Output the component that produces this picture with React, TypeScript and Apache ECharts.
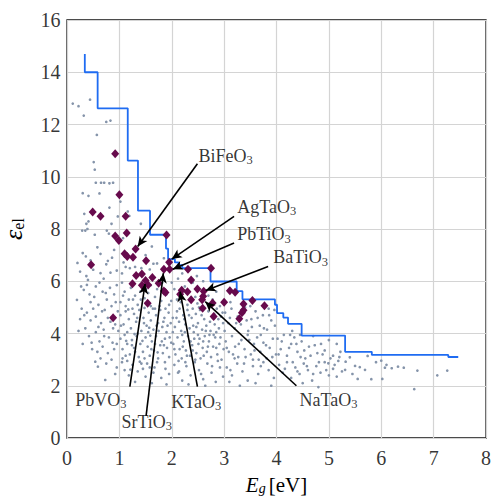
import React, { useEffect, useRef } from 'react';
import * as echarts from 'echarts';

// Axis ticks
const xTicks = [0, 1, 2, 3, 4, 5, 6, 7, 8];
const yTicks = [0, 2, 4, 6, 8, 10, 12, 14, 16];

// Pareto front (step line): x at the right end of each level, level value
const frontX = [0.34, 0.585, 1.16, 1.355, 1.585, 1.89, 1.93, 2.06, 2.13, 2.2, 2.74, 3.24, 3.35, 3.97, 4.01, 4.13, 4.22, 4.48, 5.31, 5.82, 7.28, 7.47];
const frontY = [14.7, 14.0, 12.62, 10.62, 8.7, 7.78, 7.25, 6.85, 6.72, 6.62, 6.5, 5.99, 5.62, 5.31, 5.1, 4.78, 4.61, 4.37, 3.92, 3.3, 3.18, 3.1];

// Highlighted perovskite candidates (purple diamonds)
const candidates: number[][] = [
  [0.92, 10.88], [1.0, 9.31], [0.49, 8.65], [0.64, 8.49], [1.12, 8.49], [1.14, 7.85], [0.92, 7.73], [1.9, 7.77],
  [0.99, 7.56], [1.31, 7.23], [1.1, 7.05], [1.15, 6.95], [1.26, 6.92], [0.46, 6.63], [1.51, 6.78], [1.95, 6.73],
  [1.85, 6.46], [1.96, 6.46], [1.32, 6.22], [1.43, 6.28], [1.63, 6.14], [1.25, 5.9], [1.43, 5.85], [1.55, 5.86],
  [1.5, 6.03], [1.75, 5.92], [1.85, 5.63], [1.88, 5.57], [1.54, 5.16], [0.88, 4.6], [2.75, 6.5], [2.31, 6.46],
  [2.37, 6.05], [2.49, 5.7], [2.19, 5.66], [2.16, 5.5], [2.3, 5.6], [2.61, 5.62], [2.6, 5.43], [2.58, 5.29],
  [2.37, 5.29], [3.11, 5.64], [3.21, 5.58], [2.78, 5.17], [3.0, 5.2], [2.59, 4.97], [3.54, 5.26], [3.77, 5.06],
  [3.37, 5.13], [3.37, 4.89], [3.34, 4.79], [3.29, 4.56], [2.8, 4.65],
];

// All screened materials (grey dots)
const materials: number[][] = [
  [0.11, 12.8], [0.22, 12.7], [0.44, 12.95], [0.32, 12.34], [0.75, 12.1], [0.83, 12.15], [0.57, 11.6], [0.51, 10.56],
  [0.53, 10.27], [0.55, 9.77], [0.65, 9.77], [0.71, 9.77], [0.81, 9.75], [0.88, 9.77], [0.3, 9.37], [0.41, 9.27],
  [0.62, 9.36], [1.02, 9.05], [0.81, 8.82], [1.16, 8.67], [0.33, 8.58], [0.97, 8.48], [1.19, 8.5], [0.41, 8.29],
  [0.37, 8.2], [0.85, 8.2], [1.41, 8.2], [0.29, 7.94], [0.35, 7.94], [0.39, 8.0], [0.53, 7.78], [0.76, 7.94],
  [0.8, 7.82], [1.07, 7.65],
  [0.25, 6.37], [0.3, 7.08], [0.36, 6.95], [0.5, 6.44], [0.37, 6.2], [0.64, 6.31], [0.83, 6.33], [0.95, 6.41],
  [0.64, 7.05], [0.78, 6.78], [0.75, 6.65], [0.45, 6.8], [0.58, 7.3], [0.9, 7.2], [0.2, 6.7],
  [0.19, 5.29], [0.32, 5.67], [0.38, 5.86], [0.43, 5.5], [0.45, 5.2], [0.55, 5.8], [0.62, 5.95], [0.68, 5.6],
  [0.76, 5.3], [0.82, 5.75], [0.9, 5.5], [0.95, 5.85], [0.28, 4.95], [0.38, 4.8], [0.5, 4.95], [0.6, 5.1],
  [0.72, 4.9], [0.85, 5.05], [0.97, 4.85], [0.25, 4.55], [0.45, 4.5], [0.55, 4.65], [0.65, 4.4], [0.78, 4.6], [0.92, 4.35],
  [0.22, 4.1], [0.35, 4.2], [0.42, 3.9], [0.55, 4.05], [0.62, 3.7], [0.7, 4.15], [0.8, 3.85], [0.88, 4.2],
  [0.95, 3.6], [0.3, 3.6], [0.48, 3.4], [0.58, 3.3], [0.68, 3.5], [0.78, 3.25], [0.9, 3.4], [0.54, 2.92],
  [0.64, 3.05], [0.59, 2.73], [0.75, 2.85], [0.85, 3.0], [0.95, 2.7], [0.73, 2.22], [0.92, 2.45],
  [0.33, 4.7], [0.47, 3.65], [0.52, 5.4], [0.6, 4.25], [0.67, 4.85], [0.71, 3.9], [0.74, 5.55], [0.83, 4.45],
  [0.87, 3.65], [0.93, 5.2], [0.98, 4.1], [0.4, 6.05], [0.7, 6.1], [0.86, 6.9], [0.27, 5.8],
  [1.05, 5.95], [1.1, 5.6], [1.18, 5.3], [1.22, 5.75], [1.3, 5.45], [1.35, 5.1], [1.4, 5.6], [1.48, 5.35],
  [1.55, 5.55], [1.6, 5.05], [1.68, 5.4], [1.72, 5.7], [1.8, 5.25], [1.9, 5.5], [1.95, 5.1], [1.02, 5.2],
  [1.12, 5.05], [1.6, 5.85], [1.82, 5.95],
  [1.05, 6.3], [1.12, 6.55], [1.3, 6.55], [1.42, 6.5], [1.58, 6.45], [1.65, 6.67], [1.72, 6.68], [1.85, 6.88],
  [1.62, 7.33], [1.2, 6.5], [1.08, 6.72], [1.5, 7.0],
  [1.02, 4.7], [1.08, 4.35], [1.12, 4.85], [1.18, 4.55], [1.22, 4.2], [1.28, 4.75], [1.32, 4.45], [1.38, 4.9],
  [1.42, 4.1], [1.46, 4.6], [1.52, 4.3], [1.56, 4.8], [1.6, 4.5], [1.65, 4.15], [1.7, 4.7], [1.74, 4.4],
  [1.78, 4.9], [1.82, 4.25], [1.86, 4.6], [1.9, 4.05], [1.94, 4.8], [1.98, 4.4], [1.15, 4.05], [1.35, 4.0],
  [1.55, 4.05], [1.75, 4.1], [1.25, 4.95], [1.48, 4.98], [1.68, 4.95], [1.88, 4.95],
  [1.02, 3.8], [1.06, 3.4], [1.1, 3.95], [1.15, 3.6], [1.2, 3.2], [1.24, 3.75], [1.28, 3.45], [1.33, 3.9],
  [1.37, 3.1], [1.4, 3.6], [1.45, 3.3], [1.5, 3.85], [1.54, 3.5], [1.58, 3.15], [1.62, 3.7], [1.66, 3.35],
  [1.7, 3.9], [1.74, 3.05], [1.78, 3.55], [1.83, 3.25], [1.87, 3.8], [1.91, 3.45], [1.95, 3.1], [1.99, 3.65],
  [1.12, 3.15], [1.3, 3.3], [1.48, 3.05], [1.68, 3.6], [1.85, 3.55],
  [1.05, 2.9], [1.1, 2.6], [1.18, 2.4], [1.25, 2.8], [1.35, 2.55], [1.42, 2.85], [1.5, 2.35], [1.58, 2.7],
  [1.65, 2.5], [1.72, 2.9], [1.8, 2.3], [1.88, 2.65], [1.95, 2.45], [1.3, 2.15], [1.62, 2.1], [1.9, 2.05],
  [1.15, 2.95], [1.45, 2.65],
  [1.03, 4.3], [1.07, 5.45], [1.13, 3.72], [1.17, 4.92], [1.21, 2.62], [1.26, 5.3], [1.29, 3.98], [1.34, 4.6],
  [1.39, 2.92], [1.41, 5.3], [1.44, 3.72], [1.47, 4.4], [1.51, 5.7], [1.53, 2.85], [1.57, 4.22], [1.61, 3.4],
  [1.64, 4.95], [1.67, 2.7], [1.71, 4.3], [1.73, 3.28], [1.77, 5.05], [1.81, 3.7], [1.84, 4.45], [1.87, 2.9],
  [1.92, 4.3], [1.96, 3.85], [1.99, 5.25], [1.06, 3.05], [1.24, 3.55], [1.59, 3.92],
  [2.05, 5.7], [2.1, 5.3], [2.25, 5.8], [2.3, 5.1], [2.45, 5.4], [2.52, 5.0], [2.7, 5.45], [2.78, 5.3],
  [2.85, 5.6], [2.92, 5.05], [2.4, 5.95], [2.12, 6.1], [2.2, 6.3], [2.48, 6.2], [2.6, 6.0], [2.0, 5.95],
  [2.02, 4.6], [2.06, 4.25], [2.1, 4.85], [2.14, 4.45], [2.18, 4.1], [2.22, 4.7], [2.26, 4.35], [2.3, 4.9],
  [2.34, 4.2], [2.38, 4.6], [2.42, 4.05], [2.46, 4.75], [2.5, 4.4], [2.54, 4.9], [2.58, 4.15], [2.62, 4.55],
  [2.66, 4.3], [2.7, 4.85], [2.74, 4.1], [2.78, 4.6], [2.82, 4.35], [2.86, 4.95], [2.9, 4.2], [2.94, 4.65],
  [2.98, 4.4], [2.15, 4.95], [2.4, 4.95], [2.6, 4.98], [2.85, 4.05], [2.25, 4.05],
  [2.03, 3.6], [2.07, 3.2], [2.11, 3.85], [2.15, 3.4], [2.19, 3.05], [2.23, 3.7], [2.27, 3.35], [2.31, 3.9],
  [2.35, 3.15], [2.39, 3.55], [2.43, 3.8], [2.47, 3.25], [2.51, 3.6], [2.55, 3.05], [2.59, 3.45], [2.63, 3.9],
  [2.67, 3.3], [2.71, 3.7], [2.75, 3.1], [2.79, 3.5], [2.83, 3.85], [2.87, 3.2], [2.91, 3.6], [2.95, 3.0],
  [2.99, 3.4], [2.2, 3.95], [2.5, 3.95], [2.8, 3.95], [2.4, 3.35], [2.6, 3.7],
  [2.05, 2.8], [2.12, 2.5], [2.2, 2.2], [2.28, 2.75], [2.36, 2.4], [2.44, 2.9], [2.52, 2.6], [2.6, 2.25],
  [2.68, 2.85], [2.76, 2.5], [2.84, 2.15], [2.92, 2.7], [2.98, 2.35], [2.32, 2.05], [2.64, 2.0], [2.88, 2.95],
  [2.02, 4.05], [2.05, 3.4], [2.09, 4.6], [2.13, 2.95], [2.17, 5.2], [2.21, 3.5], [2.24, 4.55], [2.29, 3.15],
  [2.33, 4.7], [2.36, 3.7], [2.41, 4.3], [2.45, 3.0], [2.49, 5.15], [2.53, 3.8], [2.57, 4.7], [2.61, 3.15],
  [2.65, 4.1], [2.69, 3.5], [2.73, 4.45], [2.77, 2.75], [2.81, 4.75], [2.85, 3.45], [2.89, 4.55], [2.93, 3.85],
  [2.97, 4.8], [2.14, 2.55], [2.56, 2.45], [2.72, 3.95], [2.47, 4.25], [2.26, 2.9],
  [3.02, 4.8], [3.08, 4.4], [3.14, 4.95], [3.2, 4.2], [3.26, 4.65], [3.32, 4.35], [3.4, 5.0], [3.46, 4.1],
  [3.52, 4.55], [3.6, 4.85], [3.68, 4.3], [3.74, 4.7], [3.82, 4.15], [3.9, 4.5], [3.96, 4.9], [3.12, 5.2],
  [3.5, 5.05], [3.85, 4.95],
  [3.03, 3.7], [3.09, 3.3], [3.15, 3.9], [3.21, 3.5], [3.27, 3.1], [3.33, 3.75], [3.39, 3.4], [3.45, 3.95],
  [3.51, 3.2], [3.57, 3.6], [3.63, 3.85], [3.69, 3.3], [3.75, 3.65], [3.81, 3.05], [3.87, 3.45], [3.93, 3.8],
  [3.99, 3.2], [3.2, 3.05], [3.55, 3.0], [3.7, 3.95],
  [3.05, 2.7], [3.15, 2.4], [3.25, 2.85], [3.35, 2.55], [3.45, 2.2], [3.55, 2.75], [3.65, 2.45], [3.75, 2.9],
  [3.85, 2.6], [3.95, 2.3], [3.3, 2.0], [3.6, 2.1], [3.9, 2.0], [3.1, 2.15],
  [3.01, 4.1], [3.05, 3.45], [3.11, 4.6], [3.17, 3.2], [3.23, 4.4], [3.28, 3.6], [3.34, 4.9], [3.38, 2.85],
  [3.43, 4.5], [3.48, 3.75], [3.53, 4.25], [3.58, 3.35], [3.64, 4.6], [3.7, 2.75], [3.76, 4.2], [3.8, 3.55],
  [3.86, 4.7], [3.92, 3.1], [3.97, 4.3], [3.41, 3.1], [3.12, 2.6], [3.66, 3.0],
  [4.02, 3.8], [4.08, 3.4], [4.14, 3.95], [4.2, 3.15], [4.28, 3.6], [4.34, 3.85], [4.4, 3.3], [4.48, 3.7],
  [4.55, 3.05], [4.62, 3.5], [4.7, 3.9], [4.78, 3.25], [4.85, 3.6], [4.92, 3.35], [5.0, 3.75], [5.08, 3.15],
  [5.15, 3.6], [5.22, 3.3], [4.3, 4.1], [4.45, 3.95],
  [4.05, 2.8], [4.12, 2.5], [4.2, 2.9], [4.28, 2.3], [4.36, 2.7], [4.44, 2.45], [4.52, 2.85], [4.6, 2.6],
  [4.68, 2.2], [4.76, 2.75], [4.84, 2.5], [4.92, 2.9], [5.0, 2.4], [5.08, 2.65], [5.18, 2.95], [5.25, 2.55],
  [4.5, 2.1], [4.8, 1.95], [4.99, 2.86], [5.15, 2.35],
  [4.04, 3.2], [4.1, 3.7], [4.16, 2.65], [4.24, 3.45], [4.31, 2.9], [4.38, 3.6], [4.46, 3.1], [4.53, 3.35],
  [4.58, 2.75], [4.65, 3.15], [4.73, 3.55], [4.81, 2.9], [4.88, 3.2], [4.95, 2.6], [5.03, 3.05], [5.11, 2.8],
  [5.2, 3.1], [4.26, 3.95], [4.4, 2.55], [4.7, 2.45],
  [5.32, 2.92], [5.4, 3.09], [5.5, 2.76], [5.59, 2.71], [5.69, 2.61], [5.55, 2.26], [5.81, 2.25], [5.74, 3.14],
  [5.31, 2.61], [6.0, 2.96], [6.1, 2.8], [6.07, 2.69], [6.2, 2.67], [6.32, 2.73], [6.43, 2.69], [6.69, 2.58],
  [7.07, 2.4], [7.26, 2.58], [6.02, 2.26], [6.63, 1.87], [5.45, 2.45], [5.9, 2.9],
];

// Annotations: label text (formula without the subscript 3), label anchor, arrow start, arrow tip
const labelNames = ['BiFeO', 'AgTaO', 'PbTiO', 'BaTiO', 'NaTaO', 'KTaO', 'SrTiO', 'PbVO'];
const labelX = [2.5, 3.24, 3.24, 3.93, 4.43, 1.98, 1.03, 0.15];
const labelY = [10.8, 8.85, 7.8, 6.91, 1.46, 1.39, 0.62, 1.46];
const arrowFromX = [2.49, 3.19, 3.19, 3.84, 4.38, 2.49, 1.51, 1.2];
const arrowFromY = [10.5, 8.48, 7.46, 6.56, 2.0, 1.97, 0.85, 1.97];
const arrowToX = [1.35, 2.0, 2.02, 2.65, 2.64, 2.16, 1.84, 1.49];
const arrowToY = [7.33, 6.85, 6.46, 5.65, 5.22, 5.6, 6.31, 5.9];

const SERIF = 'Liberation Serif';
const CLEAR = 'rgba(255,255,255,0)';

export default function App() {
  const ref = useRef<HTMLDivElement>(null);
  useEffect(() => {
    if (!ref.current) return;
    const chart = echarts.init(ref.current, undefined, { renderer: 'svg' });
    const frontData = frontX.map((x, i) => [x, frontY[i]]);
    const labelData = labelNames.map((n, i) => ({ name: n, value: [labelX[i], labelY[i]] }));
    const arrows = labelNames.map((_, i) => [
      { coord: [arrowFromX[i], arrowFromY[i]] },
      { coord: [arrowToX[i], arrowToY[i]] },
    ]);
    const tickText = { fontFamily: SERIF, fontSize: 20, color: '#000' };
    chart.setOption({
      animation: false,
      backgroundColor: '#fff',
      textStyle: { fontFamily: SERIF },
      grid: {
        left: 67, right: 6, top: 20, bottom: 60, outerBoundsMode: 'none', containLabel: false,
        show: true, borderColor: '#111', borderWidth: 1.3, backgroundColor: 'transparent',
      },
      xAxis: {
        type: 'value', min: 0, max: 8, interval: 1,
        axisLine: { show: false }, axisTick: { show: false }, axisLabel: { show: false },
        splitLine: { show: true, lineStyle: { color: '#d4d4d4', width: 1.2 } },
        name: '{i|E}{s|g} {n|[eV]}', nameLocation: 'middle', nameGap: 36,
        nameTextStyle: {
          fontFamily: SERIF, color: '#000',
          rich: {
            i: { fontFamily: SERIF, fontSize: 21, fontStyle: 'italic', color: '#000' },
            s: { fontFamily: SERIF, fontSize: 14, fontStyle: 'italic', color: '#000', padding: [7, 0, 0, 0] },
            n: { fontFamily: SERIF, fontSize: 21, color: '#000' },
          },
        },
      },
      yAxis: {
        type: 'value', min: 0, max: 16, interval: 2,
        axisLine: { show: false }, axisTick: { show: false }, axisLabel: { show: false },
        splitLine: { show: true, lineStyle: { color: '#d4d4d4', width: 1.2 } },
        name: '{i|ε}{s|el}', nameLocation: 'middle', nameGap: 41, nameRotate: 90,
        nameTextStyle: {
          fontFamily: SERIF, color: '#000',
          rich: {
            i: { fontFamily: SERIF, fontSize: 26, fontStyle: 'italic', color: '#000' },
            s: { fontFamily: SERIF, fontSize: 16, color: '#000', padding: [10, 0, 0, 0] },
          },
        },
      },
      series: [
        {
          type: 'scatter', data: materials, symbol: 'circle', symbolSize: 2.7,
          itemStyle: { color: '#8594aa', opacity: 1 }, silent: true, z: 2,
        },
        {
          type: 'line', data: frontData, step: 'start', showSymbol: false, symbol: 'none',
          lineStyle: { color: '#1f6cf2', width: 1.8 }, silent: true, z: 3,
        },
        {
          type: 'scatter', data: candidates, symbol: 'diamond', symbolSize: [8, 9],
          itemStyle: { color: '#670a4c', opacity: 1 }, silent: true, z: 4,
        },
        {
          type: 'scatter', data: labelData, symbol: 'circle', symbolSize: 1, silent: true, z: 5,
          itemStyle: { color: CLEAR },
          label: {
            show: true, position: 'right', distance: 0,
            formatter: (p: any) => `{m|${p.name}}{s|3}`,
            rich: {
              m: { fontFamily: SERIF, fontSize: 18, color: '#000' },
              s: { fontFamily: SERIF, fontSize: 12.5, color: '#000', padding: [9, 0, 0, 0] },
            },
          },
          markLine: {
            silent: true, symbol: ['none', 'arrow'], symbolSize: [7, 10],
            label: { show: false },
            lineStyle: { color: '#000', width: 1.6, type: 'solid' },
            data: arrows,
          },
        },
        {
          type: 'scatter', data: xTicks.map((v) => [v, 0]), symbol: 'circle', symbolSize: 1, silent: true, z: 6,
          clip: false, itemStyle: { color: CLEAR },
          label: { show: true, position: 'bottom', distance: 9, formatter: (p: any) => String(p.value[0]), ...tickText },
        },
        {
          type: 'scatter', data: yTicks.map((v) => [0, v]), symbol: 'circle', symbolSize: 1, silent: true, z: 6,
          clip: false, itemStyle: { color: CLEAR },
          label: { show: true, position: 'left', distance: 6, formatter: (p: any) => String(p.value[1]), ...tickText },
        },
      ],
    });
    return () => chart.dispose();
  }, []);
  return <div ref={ref} style={{ position: 'fixed', left: 0, top: 0, width: 492, height: 498, background: '#fff' }} />;
}
